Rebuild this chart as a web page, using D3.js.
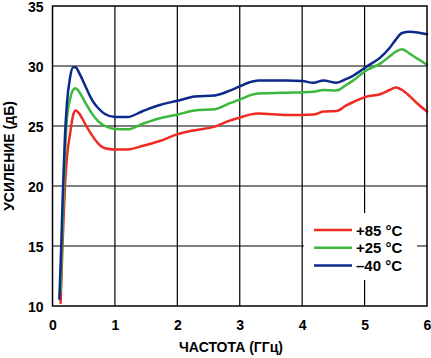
<!DOCTYPE html>
<html><head><meta charset="utf-8">
<script src="https://cdn.jsdelivr.net/npm/d3@7/dist/d3.min.js"></script>
<style>
html,body{margin:0;padding:0;background:#fff;}
svg text{font-family:"Liberation Sans",Arial,sans-serif;font-weight:bold;fill:#000;}
</style></head>
<body><svg id="chart" width="431" height="358"></svg>
<script>
const freq = [0.11,0.13,0.14,0.16,0.17,0.2,0.23,0.28,0.33,0.37,0.42,0.52,0.63,0.73,0.84,1.0,1.2,1.45,1.72,2.0,2.28,2.6,2.84,3.0,3.16,3.3,3.75,4.0,4.18,4.34,4.55,4.7,4.82,5.03,5.25,5.4,5.5,5.6,5.73,5.85,6.0];
const gainP85 = [null,10.25,11.8,15.0,16.3,20.0,22.3,24.3,25.9,26.3,26.1,25.2,24.25,23.55,23.15,23.05,23.05,23.35,23.75,24.3,24.65,24.95,25.45,25.7,25.95,26.05,25.92,25.92,25.95,26.2,26.25,26.7,27.0,27.45,27.65,28.0,28.2,28.0,27.45,26.85,26.2];
const gainP25 = [null,11.2,13.0,16.5,18.0,22.5,25.5,27.2,28.0,28.15,27.9,27.0,26.05,25.4,25.0,24.75,24.72,25.2,25.65,25.95,26.3,26.4,26.9,27.2,27.55,27.7,27.78,27.8,27.85,28.0,27.95,28.4,28.8,29.65,30.2,30.8,31.2,31.4,31.0,30.6,30.1];
const gainM40 = [10.6,13.5,15.0,18.5,20.0,24.2,26.8,29.0,29.9,29.9,29.5,28.4,27.2,26.5,26.0,25.75,25.75,26.25,26.75,27.1,27.45,27.55,27.95,28.3,28.65,28.8,28.8,28.75,28.6,28.8,28.6,28.9,29.2,29.95,30.7,31.5,32.2,32.75,32.85,32.8,32.65];
const seriesNames = ["+85 °C","+25 °C","\u201340 °C"];
const seriesColors = ["#ee2a22","#3cb83c","#0c2a8a"];
const xTicks = [0,1,2,3,4,5,6];
const yTicks = [10,15,20,25,30,35];
const xTitle = "ЧАСТОТА (ГГц)";
const yTitle = "УСИЛЕНИЕ (дБ)";

const svg = d3.select("#chart");
const L = 52.5, R = 427, T = 6, B = 306;
const x = d3.scaleLinear().domain([0,6]).range([L,R]);
const y = d3.scaleLinear().domain([10,35]).range([B,T]);

// grid
const g = svg.append("g");
g.selectAll(".vg").data(xTicks.slice(1,-1)).enter().append("line")
  .attr("x1",d=>x(d)).attr("x2",d=>x(d)).attr("y1",T).attr("y2",B)
  .attr("stroke","#000").attr("stroke-width",1.2);
g.selectAll(".hg").data(yTicks.slice(1,-1)).enter().append("line")
  .attr("x1",L).attr("x2",R).attr("y1",d=>y(d)).attr("y2",d=>y(d))
  .attr("stroke","#000").attr("stroke-width",1.2);

// series
const allGains = [gainP85,gainP25,gainM40];
const line = d3.line().defined(d=>d[1]!=null).x(d=>x(d[0])).y(d=>y(d[1])).curve(d3.curveMonotoneX);
allGains.forEach((vals,i)=>{
  svg.append("path").datum(freq.map((f,j)=>[f,vals[j]]))
    .attr("d",line).attr("fill","none").attr("stroke",seriesColors[i])
    .attr("stroke-width",2.5).attr("stroke-linejoin","round").attr("stroke-linecap","round");
});

// border
svg.append("rect").attr("x",L).attr("y",T).attr("width",R-L).attr("height",B-T)
  .attr("fill","none").attr("stroke","#000").attr("stroke-width",1.5);

// axes labels
const xa = svg.append("g").attr("transform",`translate(0,${B})`)
  .call(d3.axisBottom(x).tickValues(xTicks).tickSize(0).tickPadding(14).tickFormat(d3.format("d")));
xa.select(".domain").remove();
xa.selectAll("text").attr("font-size",14).style("font-family","'Liberation Sans',Arial,sans-serif").style("font-weight","bold").attr("fill","#000");
const ya = svg.append("g").attr("transform",`translate(${L},0)`)
  .call(d3.axisLeft(y).tickValues(yTicks).tickSize(0).tickPadding(9).tickFormat(d3.format("d")));
ya.select(".domain").remove();
ya.selectAll("text").attr("font-size",14).attr("dy","0.42em").style("font-family","'Liberation Sans',Arial,sans-serif").style("font-weight","bold").attr("fill","#000");

svg.append("text").attr("x",231).attr("y",352).attr("text-anchor","middle").attr("font-size",14).text(xTitle);
svg.append("text").attr("transform",`translate(14,156) rotate(-90)`).attr("text-anchor","middle").attr("font-size",14).text(yTitle);

// legend
svg.append("rect").attr("x",304).attr("y",213).attr("width",113).attr("height",67).attr("fill","#fff");
const lg = svg.append("g");
seriesNames.forEach((n,i)=>{
  const yy = 230 + i*17.8;
  lg.append("line").attr("x1",314).attr("x2",352).attr("y1",yy).attr("y2",yy)
    .attr("stroke",seriesColors[i]).attr("stroke-width",2.5);
  lg.append("text").attr("x",356).attr("y",yy+5.5).attr("font-size",15).text(n);
});
</script></body></html>
